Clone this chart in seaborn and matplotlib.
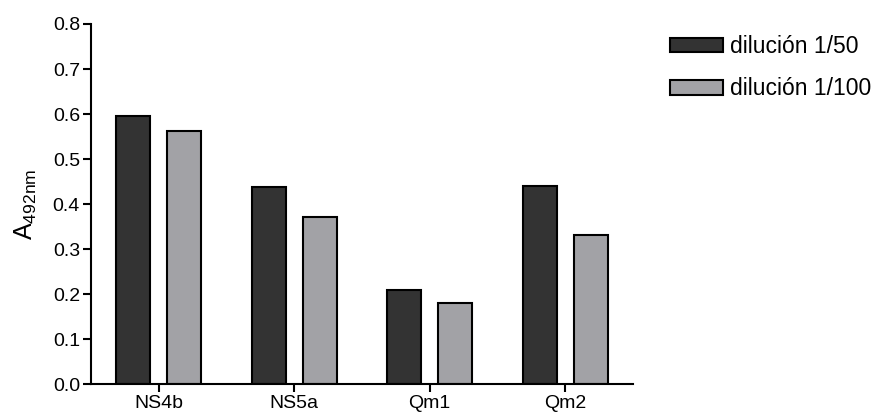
import matplotlib
matplotlib.use("Agg")
import matplotlib.pyplot as plt
import seaborn as sns
import pandas as pd

categories = ["NS4b", "NS5a", "Qm1", "Qm2"]
series_names = ["dilución 1/50", "dilución 1/100"]
values_50 = [0.596, 0.437, 0.210, 0.441]
values_100 = [0.562, 0.370, 0.181, 0.331]
y_ticks = [0.0, 0.1, 0.2, 0.3, 0.4, 0.5, 0.6, 0.7, 0.8]
colors = ["#333333", "#a2a2a6"]

rows = []
for c, v in zip(categories, values_50):
    rows.append({"cat": c, "serie": series_names[0], "val": v})
for c, v in zip(categories, values_100):
    rows.append({"cat": c, "serie": series_names[1], "val": v})
df = pd.DataFrame(rows)

sns.set_theme(style="ticks")
plt.rcParams["font.family"] = ["Liberation Sans", "DejaVu Sans"]
plt.rcParams["mathtext.fontset"] = "custom"
plt.rcParams["mathtext.rm"] = "Liberation Sans"
plt.rcParams["text.color"] = "black"
plt.rcParams["axes.labelcolor"] = "black"
plt.rcParams["xtick.color"] = "black"
plt.rcParams["ytick.color"] = "black"

fig = plt.figure(figsize=(8.78, 4.15), dpi=100)
ax = fig.add_axes([91 / 878, 1 - 384 / 415, (633 - 91) / 878, (384 - 24) / 415])

sns.barplot(data=df, x="cat", y="val", hue="serie", palette=colors,
            width=0.75, gap=0.33, edgecolor="black", linewidth=1.5,
            errorbar=None, ax=ax, saturation=1)

ax.set_xlim(-0.5, 3.5)
ax.set_ylim(0, 0.8)
ax.set_yticks(y_ticks)
ax.set_yticklabels([f"{t:.1f}" for t in y_ticks])
ax.set_xlabel("")
ax.set_ylabel(r"A$_{\mathregular{492nm}}$", fontsize=18, labelpad=10)
ax.tick_params(axis="both", labelsize=14, width=1.5, length=6, color="black",
               labelcolor="black", pad=2)
for s in ["top", "right"]:
    ax.spines[s].set_visible(False)
for s in ["left", "bottom"]:
    ax.spines[s].set_linewidth(1.5)
    ax.spines[s].set_color("black")

ax.legend(loc="upper left", bbox_to_anchor=(670 / 878, 1 - 35 / 415),
          bbox_transform=fig.transFigure, frameon=False, fontsize=16.5,
          handlelength=2.3, handleheight=0.6, labelspacing=0.85,
          handletextpad=0.3, borderaxespad=0, borderpad=0)

fig.savefig("out.png", dpi=100)
